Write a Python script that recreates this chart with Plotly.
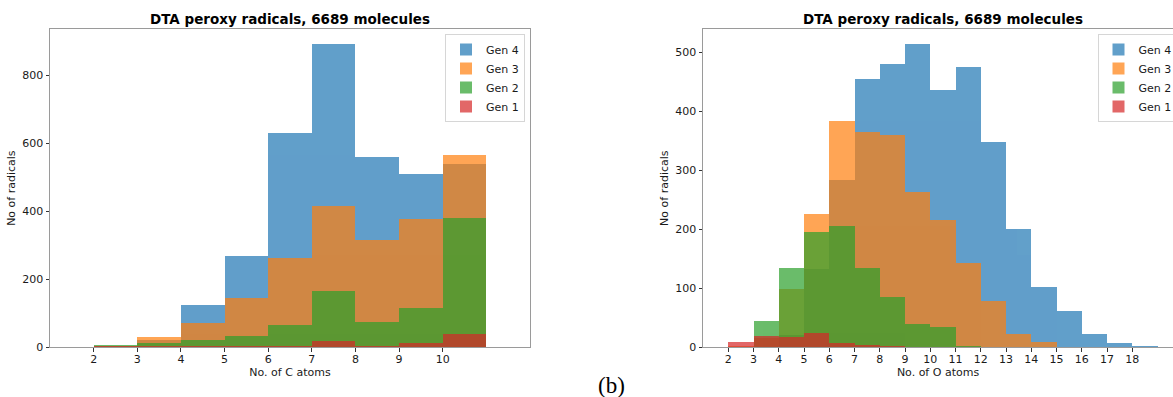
import plotly.graph_objects as go

# ---------------- data ----------------
c_bins = [2, 3, 4, 5, 6, 7, 8, 9, 10]           # left bin edges (width 1)
gen4_c = [0, 22, 124, 270, 630, 892, 559, 509, 539]
gen3_c = [3, 30, 72, 145, 262, 417, 316, 377, 566]
gen2_c = [7, 12, 21, 33, 65, 166, 75, 117, 380]
gen1_c = [2, 1, 2, 1, 1, 18, 4, 12, 39]

o_bins = [2, 3, 4, 5, 6, 7, 8, 9, 10, 11, 12, 13, 14, 15, 16, 17, 18]
gen4_o = [0, 0, 21, 132, 284, 455, 481, 514, 437, 476, 349, 200, 102, 62, 22, 7, 3]
gen3_o = [3, 15, 99, 227, 384, 365, 361, 264, 216, 143, 78, 22, 9, 0, 0, 0, 0]
gen2_o = [0, 44, 135, 195, 205, 135, 85, 40, 35, 2, 0, 0, 0, 0, 0, 0, 0]
gen1_o = [9, 20, 17, 24, 7, 4, 1, 0, 0, 0, 0, 0, 0, 0, 0, 0, 0]

names = ["Gen 4", "Gen 3", "Gen 2", "Gen 1"]
colors = ["#1f77b4", "#ff7f0e", "#2ca02c", "#d62728"]

c_ticks = [2, 3, 4, 5, 6, 7, 8, 9, 10]
o_ticks = list(range(2, 19))
yc_ticks = [0, 200, 400, 600, 800]
yo_ticks = [0, 100, 200, 300, 400, 500]

title_text = "DTA peroxy radicals, 6689 molecules"

# ---------------- figure ----------------
W, H = 1173, 397
FONT = "DejaVu Sans"
TXT = "#1a1a1a"

fig = go.Figure()

for name, col, vals in zip(names, colors, [gen4_c, gen3_c, gen2_c, gen1_c]):
    fig.add_trace(go.Bar(x=c_bins, y=vals, width=1, offset=0, name=name,
                         marker=dict(color=col, line=dict(width=0)), opacity=0.7,
                         xaxis="x", yaxis="y", legend="legend"))
for name, col, vals in zip(names, colors, [gen4_o, gen3_o, gen2_o, gen1_o]):
    fig.add_trace(go.Bar(x=o_bins, y=vals, width=1, offset=0, name=name,
                         marker=dict(color=col, line=dict(width=0)), opacity=0.7,
                         xaxis="x2", yaxis="y2", legend="legend2"))

def px_x(p):
    return p / W

def px_y(p):
    return 1 - p / H

ydom = [px_y(347.3), px_y(29)]
axis_common = dict(showgrid=False, zeroline=False, showline=True, linecolor="#9a9a9a",
                   linewidth=1, ticks="outside", ticklen=3.5, tickwidth=0.8,
                   tickcolor="#333333", tickfont=dict(family=FONT, size=11, color=TXT))
title_font = dict(family=FONT, size=11, color=TXT)

fig.update_layout(
    width=W, height=H, template="none",
    paper_bgcolor="white", plot_bgcolor="white",
    margin=dict(l=0, r=0, t=0, b=0, autoexpand=False),
    barmode="overlay", bargap=0,
    font=dict(family=FONT, size=11, color=TXT),
    xaxis=dict(domain=[px_x(50), px_x(530)], range=[1, 12], tickvals=c_ticks,
               mirror=True, anchor="y", ticklabelstandoff=-2,
               title=dict(text="No. of C atoms", font=title_font, standoff=3),
               **axis_common),
    yaxis=dict(domain=ydom, range=[0, 936.6], tickvals=yc_ticks, mirror=True, anchor="x",
               title=dict(text="No of radicals", font=title_font, standoff=4),
               **axis_common),
    xaxis2=dict(domain=[px_x(703), 1], range=[1, 1 + 470 / 25.25], tickvals=o_ticks,
                mirror=True, anchor="y2", ticklabelstandoff=-2,
                title=dict(text="No. of O atoms", font=title_font, standoff=3),
                **axis_common),
    yaxis2=dict(domain=ydom, range=[0, 540], tickvals=yo_ticks, anchor="x2",
                title=dict(text="No of radicals", font=title_font, standoff=4),
                **axis_common),
    legend=dict(x=px_x(525), xanchor="right", y=px_y(34), yanchor="top",
                bgcolor="rgba(255,255,255,0.8)", bordercolor="#d6d6d6", borderwidth=1,
                font=dict(family=FONT, size=11, color=TXT), tracegroupgap=0),
    legend2=dict(x=px_x(1097.5), xanchor="left", y=px_y(34), yanchor="top",
                 bgcolor="rgba(255,255,255,0.8)", bordercolor="#d6d6d6", borderwidth=1,
                 font=dict(family=FONT, size=11, color=TXT), tracegroupgap=0),
    annotations=[
        dict(text="<b>" + title_text + "</b>", x=px_x(290), y=px_y(29.5), xref="paper",
             yref="paper", xanchor="center", yanchor="bottom", showarrow=False,
             font=dict(family=FONT, size=13.5, color="black")),
        dict(text="<b>" + title_text + "</b>", x=px_x(942.7), y=px_y(29.5), xref="paper",
             yref="paper", xanchor="center", yanchor="bottom", showarrow=False,
             font=dict(family=FONT, size=13.5, color="black")),
        dict(text="(b)", x=px_x(611), y=px_y(385), xref="paper", yref="paper",
             xanchor="center", yanchor="middle", showarrow=False,
             font=dict(family="Liberation Serif", size=23, color="black")),
    ],
)

fig.write_html("out.html", config={"displayModeBar": False},
               post_script="document.body.style.margin='0';document.body.style.overflow='hidden';")
